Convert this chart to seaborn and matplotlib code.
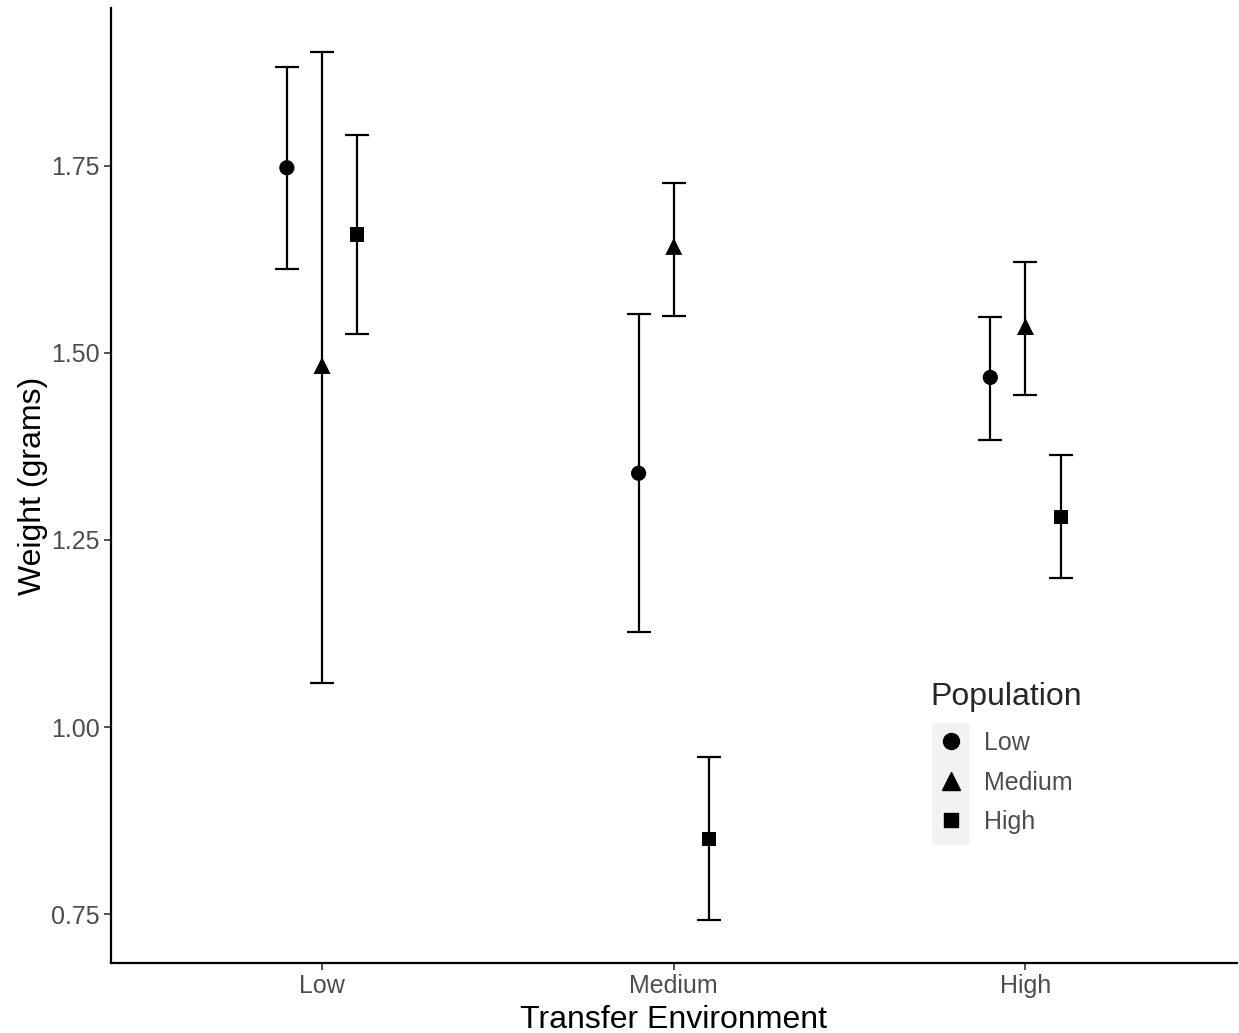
import numpy as np
import pandas as pd
import matplotlib
matplotlib.use("Agg")
import matplotlib.pyplot as plt
import seaborn as sns
from matplotlib.patches import Rectangle
from matplotlib.lines import Line2D

# Daten
environments = ["Low", "Medium", "High"]
populations = ["Low", "Medium", "High"]

env_col = ["Low", "Low", "Low", "Medium", "Medium", "Medium", "High", "High", "High"]
pop_col = ["Low", "Medium", "High", "Low", "Medium", "High", "Low", "Medium", "High"]
weight_mean = [1.747, 1.483, 1.658, 1.339, 1.642, 0.851, 1.467, 1.535, 1.281]
weight_lower = [1.612, 1.059, 1.525, 1.127, 1.549, 0.743, 1.384, 1.443, 1.199]
weight_upper = [1.882, 1.902, 1.791, 1.552, 1.727, 0.960, 1.548, 1.621, 1.363]

df = pd.DataFrame({
    "Environment": env_col,
    "Population": pop_col,
    "Weight": weight_mean,
    "lo": weight_lower,
    "hi": weight_upper,
})

# Position auf der Kategorie-Achse plus Dodge
dodge = {"Low": -0.1, "Medium": 0.0, "High": 0.1}
df["xpos"] = df["Environment"].map({e: i for i, e in enumerate(environments)}) + df["Population"].map(dodge)

sns.set_style("white")
plt.rcParams["font.family"] = ["Liberation Sans", "DejaVu Sans"]

fig = plt.figure(figsize=(12.39, 10.33), dpi=100)
ax = fig.add_axes([0.0896, 0.0678, 0.9084, 0.9242])

# Fehlerbalken
ax.errorbar(df["xpos"], df["Weight"],
            yerr=[df["Weight"] - df["lo"], df["hi"] - df["Weight"]],
            fmt="none", ecolor="black", elinewidth=1.6, capsize=8.5, capthick=1.6, zorder=2)

# Punkte
markers = {"Low": "o", "Medium": "^", "High": "s"}
sizes = {"Low": 120, "Medium": 150, "High": 105}
sns.scatterplot(data=df, x="xpos", y="Weight", style="Population", style_order=populations,
                markers=markers, size="Population", sizes=sizes, size_order=populations,
                color="black", edgecolor="black", linewidth=0, ax=ax, zorder=3, legend=False)

ax.set_xlim(-0.6, 2.6)
ax.set_ylim(0.685, 1.96)
ax.set_xticks(range(len(environments)))
ax.set_xticklabels(environments)
ax.set_yticks([0.75, 1.00, 1.25, 1.50, 1.75])
ax.set_yticklabels(["0.75", "1.00", "1.25", "1.50", "1.75"])

ax.set_xlabel("Transfer Environment", fontsize=23, color="black", labelpad=5)
ax.set_ylabel("Weight (grams)", fontsize=23, color="black", labelpad=2)
ax.tick_params(axis="both", labelsize=18, labelcolor="#4D4D4D", color="#333333",
               length=5, width=1.2, direction="out", bottom=True, left=True, pad=3)
for side in ["top", "right"]:
    ax.spines[side].set_visible(False)
for side in ["left", "bottom"]:
    ax.spines[side].set_linewidth(1.6)
    ax.spines[side].set_color("black")

# Legende
handles = [Line2D([], [], linestyle="none", marker=markers[p], color="black",
                  markersize=np.sqrt(sizes[p]) * 1.05) for p in populations]
leg = ax.legend(handles, populations, title="Population",
                loc="upper left", bbox_to_anchor=(0.737, 0.357), bbox_transform=fig.transFigure,
                frameon=False, fontsize=18, title_fontsize=23, handletextpad=0.55,
                handlelength=1.6, labelspacing=0.62, borderpad=0.2)
leg._legend_box.align = "left"
leg._legend_box.sep = 14
leg.set_zorder(5)
for t in leg.get_texts():
    t.set_color("#4D4D4D")

# grauer Hintergrund der Legenden-Schlüssel
ax.add_patch(Rectangle((932 / 1239, 1 - 845 / 1033), 38 / 1239, 122 / 1033,
                       transform=fig.transFigure, facecolor="#F2F2F2",
                       edgecolor="none", zorder=1, clip_on=False))

fig.savefig("out.png", dpi=100)
